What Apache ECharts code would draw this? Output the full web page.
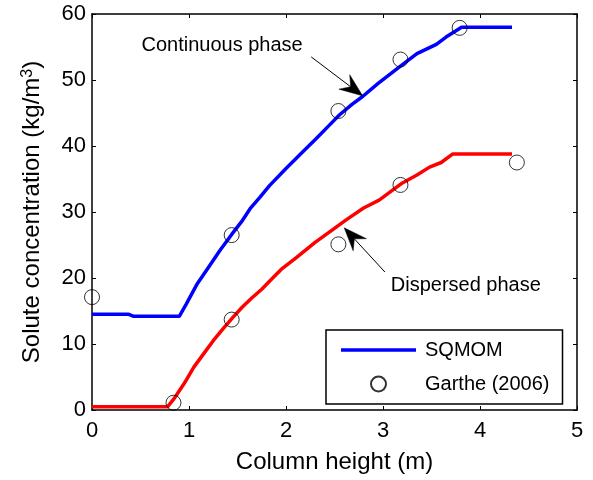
<!DOCTYPE html>
<html><head><meta charset="utf-8">
<script src="https://cdn.jsdelivr.net/npm/echarts@6/dist/echarts.min.js"></script>
<style>html,body{margin:0;padding:0;background:#fff}#c{width:593px;height:480px}</style>
</head><body><div id="c"></div>
<script>
// SQMOM – continuous phase (blue)
const contX = [0, 0.38, 0.43, 0.9, 0.97, 1.08, 1.2, 1.32, 1.44, 1.55, 1.63, 1.73, 1.83, 2.0, 2.15, 2.31, 2.45, 2.55, 2.68, 2.79, 2.95, 3.17, 3.35, 3.55, 3.65, 3.81, 4.33];
const contY = [14.5, 14.5, 14.2, 14.2, 16, 19, 21.6, 24.2, 26.6, 28.7, 30.5, 32.2, 34, 36.6, 38.8, 41.1, 43.2, 44.7, 46.3, 47.5, 49.5, 52, 54, 55.4, 56.5, 58, 58];
// SQMOM – dispersed phase (red)
const dispX = [0, 0.78, 0.84, 0.95, 1.05, 1.15, 1.25, 1.35, 1.45, 1.55, 1.65, 1.75, 1.85, 1.95, 2.1, 2.3, 2.45, 2.62, 2.8, 2.96, 3.2, 3.35, 3.48, 3.6, 3.72, 4.33];
const dispY = [0.5, 0.5, 1.6, 4, 6.5, 8.5, 10.5, 12.3, 14, 15.6, 17, 18.3, 19.8, 21.3, 23, 25.4, 27, 28.8, 30.6, 31.8, 34.4, 35.6, 36.8, 37.5, 38.8, 38.8];
// Garthe (2006) experimental points
const expX = [0, 0.84, 1.44, 1.44, 2.54, 2.54, 3.18, 3.18, 3.79, 4.38];
const expY = [17.1, 1.1, 26.5, 13.7, 45.3, 25.1, 53.1, 34.1, 57.9, 37.5];
// axes
const xTicks = [0, 1, 2, 3, 4, 5];
const yTicks = [0, 10, 20, 30, 40, 50, 60];
// annotations [x, y] in data units
const contLabel = 'Continuous phase', contLabelPos = [0.51, 55.3], contTail = [2.26, 53.5], contTip = [2.79, 47.6];
const dispLabel = 'Dispersed phase', dispLabelPos = [3.08, 18.9], dispTail = [3.02, 20.9], dispTip = [2.60, 27.6];

const FONT = "'Liberation Sans', Arial, sans-serif";
const zip = (a, b) => a.map((v, i) => [v, b[i]]);

const chart = echarts.init(document.getElementById('c'), null, {renderer: 'canvas'});

function xAx(pos, show) {
  return {
    type: 'value', position: pos, min: xTicks[0], max: xTicks[xTicks.length - 1], interval: 1,
    axisLine: {show: true, onZero: false, lineStyle: {color: '#000', width: 1.5}},
    axisTick: {show: true, inside: true, length: 4, lineStyle: {color: '#000'}},
    axisLabel: {show: show, color: '#000', fontSize: 22, fontFamily: FONT, margin: 10},
    splitLine: {show: false},
    name: show ? 'Column height (m)' : '', nameLocation: 'middle', nameGap: 40,
    nameTextStyle: {color: '#000', fontSize: 24, fontFamily: FONT}
  };
}
function yAx(pos, show) {
  return {
    type: 'value', position: pos, min: yTicks[0], max: yTicks[yTicks.length - 1], interval: 10,
    axisLine: {show: true, onZero: false, lineStyle: {color: '#000', width: 1.5}},
    axisTick: {show: true, inside: true, length: 4, lineStyle: {color: '#000'}},
    axisLabel: {show: show, color: '#000', fontSize: 22, fontFamily: FONT, margin: 6},
    splitLine: {show: false},
    name: show ? '{a|Solute concentration (kg/m}{s|3}{a|)}' : '', nameLocation: 'middle', nameGap: 48,
    nameTextStyle: {color: '#000', fontSize: 24, fontFamily: FONT, rich: {
      a: {fontSize: 24, fontFamily: FONT, color: '#000'},
      s: {fontSize: 16, fontFamily: FONT, color: '#000', verticalAlign: 'top'}
    }}
  };
}

chart.setOption({
  animation: false,
  backgroundColor: '#fff',
  grid: {left: 92, right: 16, top: 14, bottom: 70, containLabel: false},
  xAxis: [xAx('bottom', true), xAx('top', false)],
  yAxis: [yAx('left', true), yAx('right', false)],
  legend: {
    orient: 'vertical', left: 326, top: 330,
    padding: [10, 13, 10, 15], itemWidth: 75, itemHeight: 15, itemGap: 14,
    borderColor: '#000', borderWidth: 1.5, backgroundColor: '#fff',
    textStyle: {color: '#000', fontSize: 20, fontFamily: FONT, padding: [0, 0, 0, 4]},
    data: [
      {name: 'SQMOM', icon: 'path://M0,0 L75,0 L75,3.5 L0,3.5 Z', itemStyle: {color: '#0000ff', borderWidth: 0}},
      {name: 'Garthe (2006)'}
    ]
  },
  series: [
    {name: 'SQMOM', type: 'line', data: zip(contX, contY), symbol: 'none', lineStyle: {color: '#0000ff', width: 3.5}, itemStyle: {color: '#0000ff'}, z: 2},
    {name: 'SQMOM red', type: 'line', data: zip(dispX, dispY), symbol: 'none', lineStyle: {color: '#ff0000', width: 3.5}, itemStyle: {color: '#ff0000'}, z: 2},
    {name: 'Garthe (2006)', type: 'scatter', data: zip(expX, expY), symbol: 'circle', symbolSize: 15,
     itemStyle: {color: 'rgba(0,0,0,0)', borderColor: '#000', borderWidth: 1}, z: 3}
  ]
});

function arrow(tail, tip) {
  const a = chart.convertToPixel({xAxisIndex: 0, yAxisIndex: 0}, tail);
  const b = chart.convertToPixel({xAxisIndex: 0, yAxisIndex: 0}, tip);
  const dx = b[0] - a[0], dy = b[1] - a[1], L = Math.hypot(dx, dy);
  const ux = dx / L, uy = dy / L, nx = -uy, ny = ux;
  const hl = 23, hw = 9, notch = 15;
  const w1 = [b[0] - hl * ux + hw * nx, b[1] - hl * uy + hw * ny];
  const w2 = [b[0] - hl * ux - hw * nx, b[1] - hl * uy - hw * ny];
  const nc = [b[0] - notch * ux, b[1] - notch * uy];
  return [
    {type: 'line', shape: {x1: a[0], y1: a[1], x2: nc[0], y2: nc[1]}, style: {stroke: '#000', lineWidth: 1}, z: 10},
    {type: 'polygon', shape: {points: [b, w1, nc, w2]}, style: {fill: '#000', stroke: '#000', lineWidth: 0.5}, z: 10}
  ];
}
function label(txt, pos) {
  const p = chart.convertToPixel({xAxisIndex: 0, yAxisIndex: 0}, pos);
  return {type: 'text', x: p[0], y: p[1], style: {text: txt, fill: '#000', fontSize: 20, fontFamily: FONT, verticalAlign: 'middle', align: 'left'}, z: 10};
}
chart.setOption({
  graphic: [].concat(arrow(contTail, contTip), arrow(dispTail, dispTip), [label(contLabel, contLabelPos), label(dispLabel, dispLabelPos)])
});
</script></body></html>
